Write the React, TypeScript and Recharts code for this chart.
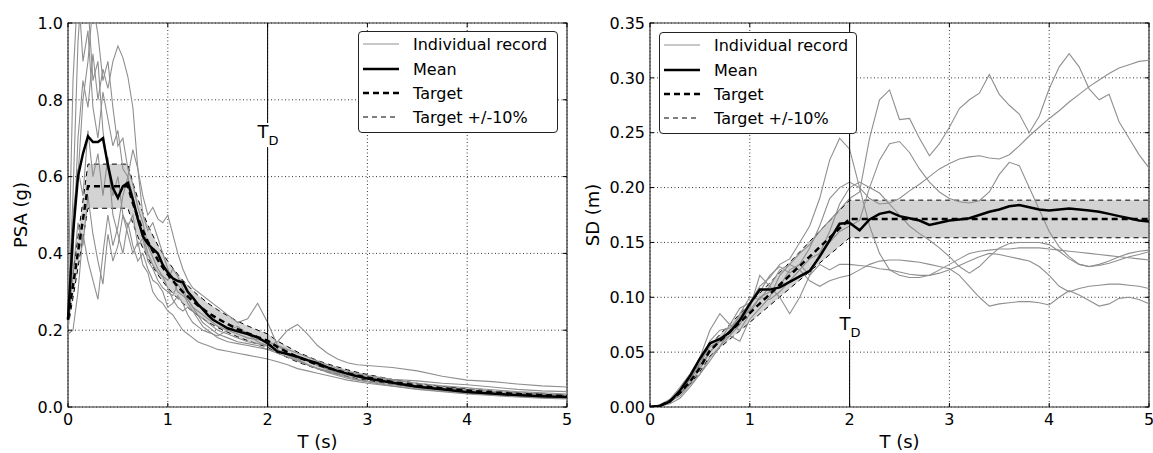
import React from 'react'
import { ComposedChart, Line, Area, XAxis, YAxis, CartesianGrid, ReferenceLine, ReferenceArea } from 'recharts'

const FONT = '"DejaVu Sans", Verdana, sans-serif'
const TOL = 0.1 // target +/- 10 %
const T_D = 2
const PLOT_TOP = 23
const PLOT_BOTTOM = 407
const HEIGHT = 453
const REC_COLOR = '#8f8f8f'
const BAND_FILL = '#d3d3d3'

const xTicks = [0, 1, 2, 3, 4, 5]
const psaTicks = [0, 0.2, 0.4, 0.6, 0.8, 1.0]
const sdTicks = [0, 0.05, 0.1, 0.15, 0.2, 0.25, 0.3, 0.35]
const legendLabels = ['Individual record', 'Mean', 'Target', 'Target +/-10%']

// ---- PSA (g), left panel ----
const psaPeriods = [
  0, 0.05, 0.1, 0.15, 0.2, 0.25, 0.3, 0.35, 0.4, 0.45,
  0.5, 0.55, 0.6, 0.65, 0.7, 0.75, 0.8, 0.85, 0.9, 0.95,
  1.0, 1.05, 1.1, 1.15, 1.2, 1.25, 1.3, 1.35, 1.4, 1.45,
  1.5, 1.6, 1.7, 1.8, 1.9, 2.0, 2.1, 2.2, 2.3, 2.4,
  2.5, 2.6, 2.7, 2.8, 2.9, 3.0, 3.25, 3.5, 3.75, 4.0, 4.25, 4.5, 4.75, 5.0,
]
const psaRec1 = [
  0.25, 0.55, 0.95, 1.15, 1.05, 0.85, 0.9, 0.72, 0.62, 0.55,
  0.6, 0.5, 0.47, 0.5, 0.42, 0.44, 0.38, 0.36, 0.33, 0.31,
  0.3, 0.29, 0.32, 0.3, 0.27, 0.25, 0.24, 0.22, 0.21, 0.2,
  0.19, 0.18, 0.17, 0.165, 0.16, 0.15, 0.14, 0.13, 0.12, 0.11,
  0.1, 0.092, 0.085, 0.078, 0.072, 0.067, 0.058, 0.05, 0.044, 0.039, 0.035, 0.031, 0.028, 0.026,
]
const psaRec2 = [
  0.22, 0.4, 0.7, 0.85, 0.78, 0.92, 0.8, 0.88, 0.83, 0.9,
  0.94, 0.91, 0.86, 0.78, 0.62, 0.5, 0.46, 0.48, 0.44, 0.4,
  0.36, 0.33, 0.3, 0.29, 0.28, 0.26, 0.24, 0.23, 0.22, 0.21,
  0.2, 0.19, 0.18, 0.17, 0.165, 0.16, 0.17, 0.2, 0.215, 0.19,
  0.16, 0.14, 0.125, 0.115, 0.11, 0.108, 0.103, 0.094, 0.08, 0.07, 0.066, 0.06, 0.055, 0.052,
]
const psaRec3 = [
  0.28, 0.85, 1.1, 0.9, 0.98, 0.78, 0.7, 0.82, 0.75, 0.68,
  0.72, 0.62, 0.6, 0.55, 0.48, 0.45, 0.4, 0.37, 0.35, 0.34,
  0.31, 0.28, 0.26, 0.25, 0.26, 0.25, 0.23, 0.21, 0.2, 0.19,
  0.185, 0.2, 0.21, 0.19, 0.17, 0.16, 0.15, 0.135, 0.122, 0.11,
  0.1, 0.094, 0.088, 0.082, 0.078, 0.074, 0.066, 0.056, 0.05, 0.046, 0.041, 0.037, 0.034, 0.031,
]
const psaRec4 = [
  0.19, 0.2, 0.3, 0.45, 0.38, 0.33, 0.28, 0.4, 0.5, 0.42,
  0.47, 0.55, 0.6, 0.67, 0.62, 0.55, 0.5, 0.52, 0.49, 0.48,
  0.5, 0.45, 0.4, 0.36, 0.33, 0.31, 0.3, 0.29, 0.28, 0.27,
  0.26, 0.24, 0.22, 0.23, 0.27, 0.22, 0.16, 0.14, 0.125, 0.11,
  0.1, 0.09, 0.082, 0.075, 0.07, 0.065, 0.055, 0.047, 0.041, 0.036, 0.032, 0.028, 0.025, 0.023,
]
const psaRec5 = [
  0.24, 0.5, 0.62, 0.55, 0.72, 0.6, 0.66, 0.55, 0.65, 0.5,
  0.45, 0.4, 0.48, 0.42, 0.38, 0.4, 0.36, 0.33, 0.32, 0.3,
  0.26, 0.27, 0.29, 0.27, 0.24, 0.22, 0.21, 0.2, 0.195, 0.19,
  0.18, 0.17, 0.165, 0.16, 0.155, 0.15, 0.145, 0.14, 0.13, 0.12,
  0.108, 0.098, 0.09, 0.085, 0.08, 0.078, 0.07, 0.062, 0.055, 0.05, 0.045, 0.04, 0.037, 0.034,
]
const psaRec6 = [
  0.21, 0.45, 0.6, 0.8, 0.9, 1.05, 0.97, 0.85, 0.9, 0.78,
  0.68, 0.7, 0.62, 0.58, 0.52, 0.48, 0.42, 0.39, 0.36, 0.34,
  0.33, 0.36, 0.34, 0.31, 0.28, 0.26, 0.25, 0.24, 0.23, 0.22,
  0.21, 0.2, 0.19, 0.18, 0.175, 0.17, 0.16, 0.15, 0.14, 0.13,
  0.12, 0.11, 0.1, 0.093, 0.087, 0.082, 0.072, 0.068, 0.062, 0.058, 0.052, 0.046, 0.042, 0.04,
]
const psaRec7 = [
  0.2, 0.35, 0.48, 0.42, 0.55, 0.45, 0.38, 0.32, 0.45, 0.38,
  0.42, 0.5, 0.45, 0.4, 0.43, 0.37, 0.35, 0.3, 0.28, 0.27,
  0.25, 0.24, 0.22, 0.2, 0.19, 0.18, 0.17, 0.165, 0.16, 0.155,
  0.15, 0.145, 0.14, 0.135, 0.13, 0.125, 0.118, 0.11, 0.1, 0.094,
  0.088, 0.082, 0.076, 0.07, 0.066, 0.062, 0.054, 0.046, 0.04, 0.034, 0.03, 0.026, 0.023, 0.021,
]
const psaMean = [
  0.227, 0.45, 0.6, 0.66, 0.705, 0.69, 0.69, 0.7, 0.63, 0.57,
  0.545, 0.575, 0.584, 0.54, 0.49, 0.445, 0.425, 0.412, 0.4, 0.37,
  0.35, 0.335, 0.328, 0.325, 0.3, 0.285, 0.268, 0.255, 0.24, 0.228,
  0.22, 0.205, 0.197, 0.19, 0.181, 0.166, 0.144, 0.138, 0.131, 0.122,
  0.114, 0.103, 0.094, 0.087, 0.08, 0.074, 0.063, 0.053, 0.046, 0.039, 0.035, 0.031, 0.028, 0.026,
]
const psaTarget = [
  0.23, 0.316, 0.403, 0.489, 0.575, 0.575, 0.575, 0.575, 0.575, 0.575,
  0.575, 0.575, 0.575, 0.531, 0.493, 0.46, 0.431, 0.406, 0.383, 0.363,
  0.345, 0.329, 0.314, 0.3, 0.288, 0.276, 0.265, 0.256, 0.246, 0.238,
  0.23, 0.216, 0.203, 0.192, 0.182, 0.173, 0.156, 0.143, 0.13, 0.12,
  0.11, 0.102, 0.095, 0.088, 0.082, 0.077, 0.065, 0.056, 0.049, 0.043, 0.038, 0.034, 0.031, 0.028,
]

// ---- SD (m), right panel ----
const sdPeriods = [
  0, 0.1, 0.2, 0.3, 0.4, 0.5, 0.6, 0.7, 0.8, 0.9,
  1.0, 1.1, 1.2, 1.3, 1.4, 1.5, 1.6, 1.7, 1.8, 1.9,
  2.0, 2.1, 2.2, 2.3, 2.4, 2.5, 2.6, 2.7, 2.8, 2.9,
  3.0, 3.1, 3.2, 3.3, 3.4, 3.5, 3.6, 3.7, 3.8, 3.9,
  4.0, 4.1, 4.2, 4.3, 4.4, 4.5, 4.6, 4.7, 4.8, 4.9,
  5.0,
]
const sdRec1 = [
  0, 0.001, 0.004, 0.012, 0.022, 0.035, 0.05, 0.062, 0.068, 0.085,
  0.1, 0.098, 0.11, 0.125, 0.13, 0.14, 0.148, 0.16, 0.17, 0.18,
  0.19, 0.196, 0.245, 0.28, 0.289, 0.262, 0.263, 0.245, 0.229, 0.24,
  0.255, 0.272, 0.28, 0.286, 0.303, 0.285, 0.275, 0.267, 0.25, 0.265,
  0.29, 0.31, 0.322, 0.31, 0.29, 0.28, 0.285, 0.26, 0.245, 0.23,
  0.218,
]
const sdRec2 = [
  0, 0.002, 0.006, 0.015, 0.028, 0.04, 0.055, 0.06, 0.075, 0.09,
  0.095, 0.105, 0.12, 0.128, 0.122, 0.13, 0.145, 0.165, 0.19, 0.2,
  0.205, 0.2, 0.19, 0.185, 0.186, 0.19, 0.197, 0.203, 0.21, 0.217,
  0.222, 0.226, 0.228, 0.229, 0.227, 0.226, 0.23, 0.238, 0.247, 0.255,
  0.263, 0.27, 0.278, 0.285, 0.292, 0.298, 0.304, 0.309, 0.312, 0.315,
  0.316,
]
const sdRec3 = [
  0, 0.001, 0.005, 0.01, 0.02, 0.03, 0.042, 0.055, 0.07, 0.08,
  0.088, 0.1, 0.098, 0.105, 0.115, 0.125, 0.135, 0.14, 0.15, 0.16,
  0.165, 0.17, 0.2, 0.225, 0.24, 0.242, 0.232, 0.217, 0.205, 0.196,
  0.19, 0.187, 0.186, 0.188, 0.196, 0.212, 0.223, 0.22, 0.2, 0.18,
  0.16, 0.146, 0.137, 0.13, 0.128, 0.13, 0.133, 0.137, 0.14, 0.142,
  0.143,
]
const sdRec4 = [
  0, 0.001, 0.004, 0.012, 0.025, 0.04, 0.06, 0.07, 0.072, 0.082,
  0.095, 0.11, 0.118, 0.13, 0.135, 0.15, 0.165, 0.19, 0.225, 0.245,
  0.235, 0.2, 0.165, 0.14, 0.125, 0.12, 0.118, 0.118, 0.12, 0.125,
  0.13, 0.135, 0.14, 0.142, 0.143, 0.144, 0.144, 0.145, 0.145, 0.145,
  0.144, 0.143, 0.142, 0.141, 0.14, 0.139, 0.138, 0.137, 0.136, 0.135,
  0.134,
]
const sdRec5 = [
  0, 0.002, 0.007, 0.018, 0.03, 0.045, 0.07, 0.085, 0.075, 0.07,
  0.085, 0.1, 0.105, 0.11, 0.125, 0.13, 0.12, 0.14, 0.16, 0.185,
  0.2, 0.205, 0.2, 0.195, 0.185, 0.175, 0.165, 0.158, 0.152, 0.145,
  0.137, 0.128, 0.122, 0.128, 0.137, 0.145, 0.149, 0.15, 0.15, 0.15,
  0.148, 0.142, 0.135, 0.13, 0.128, 0.129, 0.131, 0.134, 0.137, 0.139,
  0.1415,
]
const sdRec6 = [
  0, 0.001, 0.005, 0.015, 0.025, 0.038, 0.05, 0.06, 0.065, 0.075,
  0.09, 0.12, 0.11, 0.1, 0.085, 0.1, 0.12, 0.13, 0.125, 0.13,
  0.13, 0.129, 0.128, 0.126, 0.125, 0.123, 0.121, 0.12, 0.12, 0.122,
  0.125, 0.129, 0.133, 0.137, 0.14, 0.139, 0.137, 0.135, 0.133, 0.128,
  0.12, 0.11, 0.105, 0.108, 0.11, 0.111, 0.112, 0.112, 0.111, 0.11,
  0.108,
]
const sdRec7 = [
  0, 0.001, 0.003, 0.008, 0.018, 0.03, 0.045, 0.055, 0.065, 0.06,
  0.08, 0.09, 0.1, 0.12, 0.13, 0.125, 0.115, 0.11, 0.115, 0.118,
  0.12, 0.125, 0.13, 0.133, 0.134, 0.134, 0.133, 0.132, 0.13, 0.128,
  0.126, 0.12, 0.11, 0.1, 0.092, 0.094, 0.095, 0.096, 0.096, 0.095,
  0.093, 0.1, 0.106, 0.102, 0.097, 0.092, 0.094, 0.099, 0.1, 0.098,
  0.094,
]
const sdMean = [
  0, 0.001, 0.005, 0.015, 0.028, 0.044, 0.058, 0.062, 0.068, 0.079,
  0.094, 0.107, 0.107, 0.109, 0.114, 0.119, 0.124, 0.137, 0.152, 0.167,
  0.168, 0.161, 0.171, 0.176, 0.178, 0.174, 0.172, 0.17, 0.166, 0.168,
  0.17, 0.171, 0.172, 0.175, 0.178, 0.18, 0.183, 0.184, 0.182, 0.18,
  0.179, 0.18, 0.181, 0.18, 0.179, 0.178, 0.176, 0.174, 0.172, 0.17,
  0.169,
]
const sdTarget = [
  0, 0.0011, 0.0057, 0.0129, 0.0229, 0.0357, 0.0514, 0.06, 0.0686, 0.0771,
  0.0857, 0.0943, 0.1028, 0.1114, 0.12, 0.1285, 0.1371, 0.1457, 0.1543, 0.1628,
  0.1714, 0.1714, 0.1714, 0.1714, 0.1714, 0.1714, 0.1714, 0.1714, 0.1714, 0.1714,
  0.1714, 0.1714, 0.1714, 0.1714, 0.1714, 0.1714, 0.1714, 0.1714, 0.1714, 0.1714,
  0.1714, 0.1714, 0.1714, 0.1714, 0.1714, 0.1714, 0.1714, 0.1714, 0.1714, 0.1714,
  0.1714,
]

const psaRecords = [psaRec1, psaRec2, psaRec3, psaRec4, psaRec5, psaRec6, psaRec7]
const sdRecords = [sdRec1, sdRec2, sdRec3, sdRec4, sdRec5, sdRec6, sdRec7]

function buildRows(periods: number[], records: number[][], mean: number[], target: number[]) {
  return periods.map((t, i) => {
    const lo = target[i] * (1 - TOL)
    const hi = target[i] * (1 + TOL)
    const row: Record<string, any> = { t, mean: mean[i], target: target[i], lo, hi, band: [lo, hi] }
    records.forEach((r, k) => {
      row['r' + k] = r[i]
    })
    return row
  })
}

const psaRows = buildRows(psaPeriods, psaRecords, psaMean, psaTarget)
const sdRows = buildRows(sdPeriods, sdRecords, sdMean, sdTarget)

const legendStyles = [
  { stroke: REC_COLOR, width: 1.2, dash: undefined },
  { stroke: '#000', width: 2.5, dash: undefined },
  { stroke: '#000', width: 2.5, dash: '6 4' },
  { stroke: '#000', width: 1, dash: '5 4' },
]

function LegendBox({ left, top, width }: { left: number; top: number; width: number }) {
  const rowY = [12, 37, 61, 85]
  return (
    <div
      style={{
        position: 'absolute',
        left,
        top,
        width,
        height: 102,
        boxSizing: 'border-box',
        border: '1px solid #222',
        borderRadius: 4,
        background: '#fff',
      }}
    >
      <svg width={width - 2} height={100} style={{ display: 'block' }}>
        {legendLabels.map((label, i) => (
          <g key={label}>
            <line
              x1={4}
              x2={40}
              y1={rowY[i]}
              y2={rowY[i]}
              stroke={legendStyles[i].stroke}
              strokeWidth={legendStyles[i].width}
              strokeDasharray={legendStyles[i].dash}
            />
            <text x={54} y={rowY[i]} dy="0.36em" fontSize={16} fontFamily={FONT} fill="#000">
              {label}
            </text>
          </g>
        ))}
      </svg>
    </div>
  )
}

type PanelProps = {
  rows: Record<string, any>[]
  width: number
  yAxisWidth: number
  marginRight: number
  yMax: number
  yTicks: number[]
  yDigits: number
  yTitle: string
  yTitleX: number
  tdTop: number
  tdHeight: number
  tdBase: number
  legendLeft: number
  legendTop: number
  legendWidth: number
}

function Panel(props: PanelProps) {
  const { rows, width, yAxisWidth, marginRight, yMax, yTicks, yDigits } = props
  const plotLeft = yAxisWidth
  const plotRight = width - marginRight
  const xCenter = (plotLeft + plotRight) / 2

  const xTick = (p: any) => {
    const { x, y, payload } = p
    return (
      <g>
        <line x1={x} x2={x} y1={PLOT_BOTTOM} y2={PLOT_BOTTOM - 4} stroke="#000" />
        <line x1={x} x2={x} y1={PLOT_TOP} y2={PLOT_TOP + 4} stroke="#000" />
        <text x={x} y={y} dy="0.71em" textAnchor="middle" fontSize={16} fontFamily={FONT} fill="#000">
          {payload.value}
        </text>
      </g>
    )
  }

  const yTick = (p: any) => {
    const { x, y, payload } = p
    return (
      <g>
        <line x1={plotLeft} x2={plotLeft + 4} y1={y} y2={y} stroke="#000" />
        <line x1={plotRight} x2={plotRight - 4} y1={y} y2={y} stroke="#000" />
        <text x={x} y={y} dy="0.36em" textAnchor="end" fontSize={16} fontFamily={FONT} fill="#000">
          {Number(payload.value).toFixed(yDigits)}
        </text>
      </g>
    )
  }

  const tdLabel = (p: any) => {
    const vb = p && p.viewBox ? p.viewBox : {}
    const x = vb.x ?? plotLeft + ((plotRight - plotLeft) * T_D) / 5
    const y0 = (vb.y ?? PLOT_TOP) + props.tdTop
    return (
      <g>
        <rect x={x - 11} y={y0} width={25} height={props.tdHeight} fill="#fff" />
        <text x={x - 10} y={y0 + props.tdBase} fontSize={18} fontFamily={FONT} fill="#000">
          T
          <tspan fontSize={13} dy={7}>
            D
          </tspan>
        </text>
      </g>
    )
  }

  return (
    <div style={{ position: 'relative', width, height: HEIGHT }}>
      <ComposedChart
        width={width}
        height={HEIGHT}
        data={rows}
        margin={{ top: PLOT_TOP, right: marginRight, bottom: 0, left: 0 }}
      >
        <CartesianGrid stroke="#000" strokeDasharray="1 2.5" strokeWidth={0.8} />
        <XAxis
          type="number"
          dataKey="t"
          domain={[0, 5]}
          ticks={xTicks}
          interval={0}
          axisLine={false}
          tickLine={false}
          tickSize={0}
          tickMargin={7}
          height={HEIGHT - PLOT_BOTTOM}
          tick={xTick}
        />
        <YAxis
          type="number"
          domain={[0, yMax]}
          ticks={yTicks}
          interval={0}
          allowDataOverflow
          axisLine={false}
          tickLine={false}
          tickSize={0}
          tickMargin={5}
          width={yAxisWidth}
          tick={yTick}
        />
        <Area dataKey="band" type="linear" fill={BAND_FILL} fillOpacity={1} stroke="none" isAnimationActive={false} />
        <Line dataKey="lo" type="linear" stroke="#000" strokeWidth={1} strokeDasharray="5 4" dot={false} isAnimationActive={false} />
        <Line dataKey="hi" type="linear" stroke="#000" strokeWidth={1} strokeDasharray="5 4" dot={false} isAnimationActive={false} />
        {[0, 1, 2, 3, 4, 5, 6].map((k) => (
          <Line
            key={k}
            dataKey={'r' + k}
            type="linear"
            stroke={REC_COLOR}
            strokeWidth={1.1}
            dot={false}
            isAnimationActive={false}
          />
        ))}
        <Line dataKey="target" type="linear" stroke="#000" strokeWidth={2.5} strokeDasharray="6 4" dot={false} isAnimationActive={false} />
        <Line dataKey="mean" type="linear" stroke="#000" strokeWidth={2.5} dot={false} isAnimationActive={false} />
        <ReferenceLine x={T_D} stroke="#000" strokeWidth={1} label={tdLabel} />
        <ReferenceArea x1={0} x2={5} y1={0} y2={yMax} fill="none" stroke="#333" strokeWidth={1.2} />
      </ComposedChart>

      <div
        style={{
          position: 'absolute',
          left: props.yTitleX - 60,
          top: (PLOT_TOP + PLOT_BOTTOM) / 2 - 12,
          width: 120,
          height: 24,
          lineHeight: '24px',
          textAlign: 'center',
          fontSize: 18,
          fontFamily: FONT,
          transform: 'rotate(-90deg)',
        }}
      >
        {props.yTitle}
      </div>
      <div
        style={{
          position: 'absolute',
          left: xCenter - 60,
          top: 430,
          width: 120,
          height: 24,
          lineHeight: '24px',
          textAlign: 'center',
          fontSize: 18,
          fontFamily: FONT,
        }}
      >
        T (s)
      </div>
      <LegendBox left={props.legendLeft} top={props.legendTop} width={props.legendWidth} />
    </div>
  )
}

export default function App() {
  return (
    <div
      style={{
        position: 'absolute',
        left: 0,
        top: 0,
        width: 1153,
        height: HEIGHT,
        display: 'flex',
        background: '#fff',
        fontFamily: FONT,
      }}
    >
      <Panel
        rows={psaRows}
        width={580}
        yAxisWidth={68}
        marginRight={13}
        yMax={1}
        yTicks={psaTicks}
        yDigits={1}
        yTitle="PSA (g)"
        yTitleX={21}
        tdTop={100}
        tdHeight={24}
        tdBase={15}
        legendLeft={358}
        legendTop={31}
        legendWidth={200}
      />
      <Panel
        rows={sdRows}
        width={573}
        yAxisWidth={70}
        marginRight={4}
        yMax={0.35}
        yTicks={sdTicks}
        yDigits={2}
        yTitle="SD (m)"
        yTitleX={13}
        tdTop={286}
        tdHeight={31}
        tdBase={21}
        legendLeft={79}
        legendTop={32}
        legendWidth={198}
      />
    </div>
  )
}
